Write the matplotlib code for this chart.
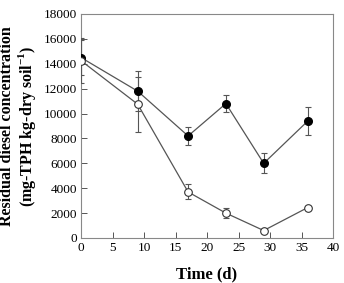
import matplotlib.pyplot as plt

plt.rcParams['font.family'] = ['Liberation Serif', 'DejaVu Serif']
plt.rcParams['mathtext.fontset'] = 'custom'
plt.rcParams['mathtext.rm'] = 'Liberation Serif'
plt.rcParams['mathtext.bf'] = 'Liberation Serif:bold'

# dados
tempo = [0, 9, 17, 23, 29, 36]
cheio = [14500, 11800, 8200, 10800, 6000, 9400]
cheio_err = [1400, 1600, 750, 700, 800, 1100]
vazio = [14250, 10750, 3700, 2000, 600, 2450]
vazio_err = [1800, 2200, 600, 400, 100, 150]

fig = plt.figure(figsize=(3.44, 2.83), dpi=100)
ax = fig.add_axes([81/344, 1 - 238/283, 252/344, 224/283])

cor_linha = '#555555'
ax.errorbar(tempo, cheio, yerr=cheio_err, color=cor_linha, lw=0.9,
            marker='o', ms=5.5, mfc='black', mec='black', ecolor=cor_linha,
            elinewidth=0.8, capsize=2, capthick=0.8, zorder=3)
ax.errorbar(tempo, vazio, yerr=vazio_err, color=cor_linha, lw=0.9,
            marker='o', ms=5.5, mfc='white', mec='#333333', mew=0.8, ecolor=cor_linha,
            elinewidth=0.8, capsize=2, capthick=0.8, zorder=3)

ax.set_xlim(0, 40)
ax.set_ylim(0, 18000)
ax.set_xticks(range(0, 41, 5))
ax.set_yticks(range(0, 18001, 2000))
ax.tick_params(direction='in', length=4, width=0.7, labelsize=9.5, color='#555555', pad=3)
for s in ax.spines.values():
    s.set_color('#888888')
    s.set_linewidth(0.8)

ax.set_xlabel('Time (d)', fontsize=12, fontweight='bold', labelpad=9)
ax.set_ylabel('Residual diesel concentration\n(mg-TPH kg-dry soil$^{\\mathbf{-1}}$)',
              fontsize=11.5, fontweight='bold', labelpad=4, linespacing=1.05)

fig.savefig('out.png', dpi=100)
